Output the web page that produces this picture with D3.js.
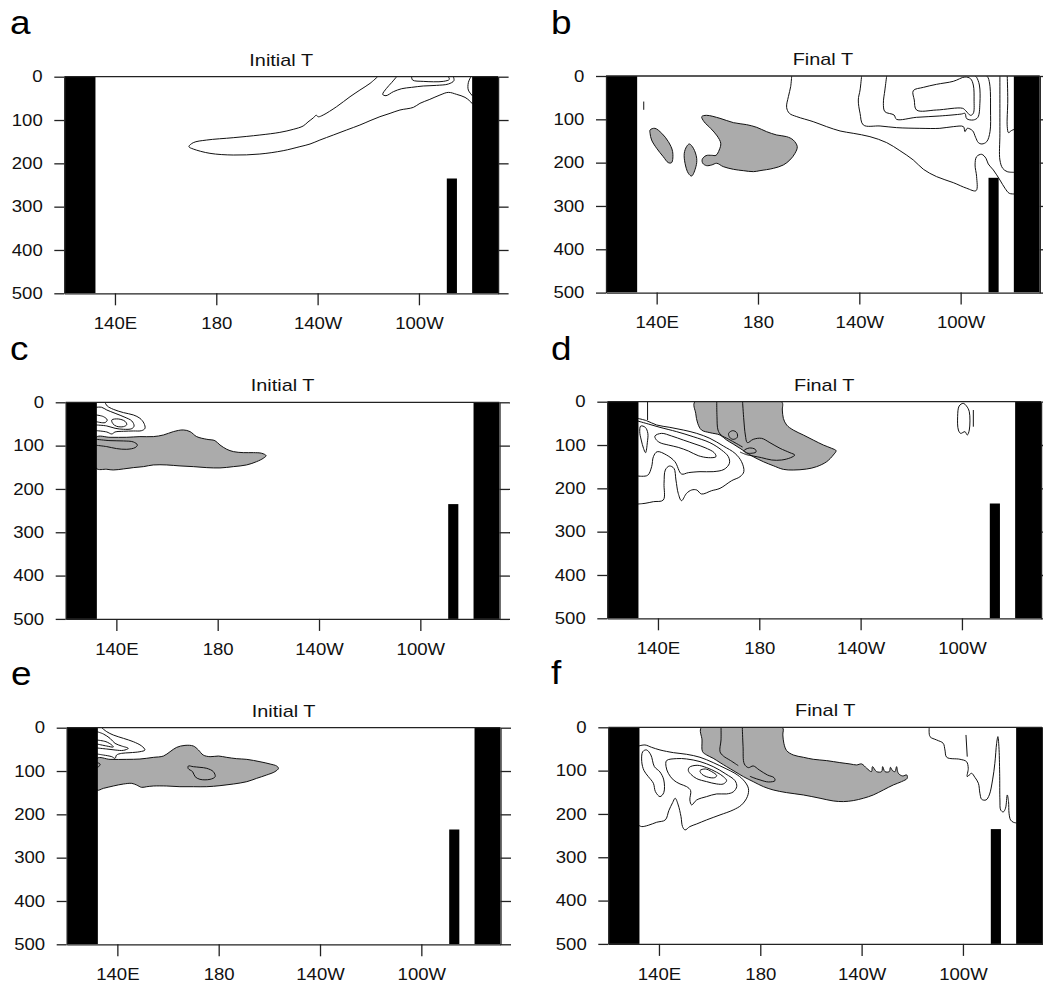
<!DOCTYPE html>
<html><head><meta charset="utf-8">
<script src="https://cdn.jsdelivr.net/npm/d3@7"></script>
<style>body{margin:0;background:#fff}svg{display:block}</style>
</head><body>
<script>
// ---------- data ----------
const depthTicks = [0, 100, 200, 300, 400, 500];
const lonTicks = [140, 180, 220, 260];
const lonTickLabels = ["140E", "180", "140W", "100W"];
const lonDomain = [120, 291.25];
const depthDomain = [0, 500];
const landWest = [120, 132.3];
const landEast = [281, 291.25];
const ridgeLon = [271, 275];
const ridgeTop = 235;
const panelLetters = ["a", "b", "c", "d", "e", "f"];
const panelTitles = ["Initial T", "Final T", "Initial T", "Final T", "Initial T", "Final T"];

// contours: [lon (deg E), depth (m)]
const A_shaded = [];
const A_lines = [
  [[243.7,0],[240.7,15.4],[236.7,30.8],[232.8,46.2],[227.5,69.2],[222.2,88.5],[220.3,92.5],[219.4,89.0],[218.4,94.6],[216.2,104.5],[214.3,113.8],[210.4,121.5],[205.1,128.5],[197.2,134.6],[186.7,140.8],[176.2,146.2],[170.9,152.3],[169.2,161.5],[170.9,166.9],[177.5,176.9],[186.7,180.8],[197.2,178.5],[206.4,170.8],[213,161.5],[217,155.4],[220.9,146.2],[226.2,134.6],[231.4,123.1],[236.7,111.5],[240.7,101.5],[244.6,92.3],[248.6,84.6],[252.5,76.9],[257.8,70.8],[260.4,61.5],[264.3,52.3],[268.3,42.3],[271.6,36.2],[274.9,40.8],[278.2,47.7],[280.1,56.2],[281.2,63.1]],
  [[251.2,0],[249.2,13.8],[247.2,26.9],[245.7,40.8],[247,43.8],[249.9,34.6],[253.2,27.7],[257.1,24.6],[261.7,21.5],[267,20],[271.6,16.9],[273.8,9.2],[273.6,0]],
  [[257.1,0],[257.5,7.7],[261.7,10.8],[269.6,10.8],[272,6.2],[271.6,0]],
  [[280.5,0],[279.5,13.8],[279.5,30.8],[281.2,44.6]]
];
const A_loops = [];

const B_shaded = [
  [[137.4,124.6],[139.3,120.8],[142,132.3],[144.6,151.5],[146.3,174.6],[145.9,200],[144.6,200],[142.6,186.2],[140,166.9],[138,147.7],[137.4,132.3]],
  [[152.9,156.9],[154.5,166.9],[155.8,190],[155.5,209.2],[153.8,230.8],[152.5,224.6],[151.2,201.5],[150.9,178.5],[151.8,163.1]],
  [[157.8,93.8],[159.7,90.8],[165,97.7],[170.3,107.7],[175.5,112.3],[179.5,118.5],[183.4,128.5],[187.4,136.2],[191.3,140],[193.9,147.7],[195.5,163.1],[194.6,178.5],[192.6,193.8],[190,205.4],[186.1,213.1],[180.8,218.5],[178.2,220.8],[174.2,218.5],[170.3,215.4],[166.3,209.2],[163.7,201.5],[161.7,205.4],[159.7,206.9],[158.2,201.5],[158,192.3],[159.5,183.8],[161.7,183.1],[163.4,183.1],[164.7,170.8],[165.3,155.4],[163.9,138.5],[161.3,120.8],[158.7,105.4]]
];
const B_lines = [
  [[193.3,0],[192.9,24.6],[192,47.7],[191.3,72.3],[192.4,86.2],[195.3,93.8],[201.8,105.4],[207.1,116.9],[212.4,126.9],[217.6,132.3],[224.2,140],[230.8,153.8],[236,172.3],[241.3,193.8],[245.3,215.4],[250.5,232.3],[257.1,246.2],[262.4,259.2],[266.1,264.6],[266.3,232.3],[265.7,205.4],[266.3,186.2],[268.3,180.8],[270,190],[270.9,203.1],[272.9,216.9],[275.5,240],[277.5,259.2],[279.2,270.8],[281.2,272.3]],
  [[220.9,0],[220.3,32.3],[219.6,55.4],[220.3,86.2],[221.6,113.1],[228.2,115.4],[234.7,119.2],[243.9,120.8],[251.8,120.8],[257.1,116.9],[261.1,116.9],[261.7,128.5],[262.6,120.8],[264.7,126.2],[265.9,141.5],[267,153.8],[268.4,156.9],[270.3,151.5],[271.6,128.5],[271.8,78.5],[271.6,24.6],[270.9,4.6],[270.3,0]],
  [[230.8,0],[230.1,32.3],[229.5,63.1],[230.1,82.3],[233.7,90],[234.7,100],[242.6,95.4],[251.8,92.3],[260.4,87.7],[261.7,86.2],[262.4,98.5],[265,101.5],[266.8,95.4],[267.6,63.1],[267.4,20.8],[266.3,3.1],[265.7,0]],
  [[275.5,0],[275.5,132.3],[275.5,193.8],[276.6,213.1],[278.4,220.8],[281.2,222.3]],
  [[278.4,0],[278.6,55.4],[278.4,116.9],[278.9,130.8],[280,126.2],[281.2,123.1]],
  [[134.9,59],[134.9,78]]
];
const B_loops = [
  [[241.3,33.8],[241.7,55.4],[242.6,78.5],[250.5,78.5],[260.8,74.6],[262.1,80.8],[263.9,90.8],[265,86.2],[265.3,55.4],[265,20.8],[263.9,6.2],[261.7,2.3],[257.1,12.3],[250.5,19.2],[245.3,26.2]]
];

const C_shaded = [
  [[132,80.8],[137.5,80.8],[144.1,80.8],[149.3,79.2],[154.6,79.2],[158.6,75.4],[162.5,67.7],[166.4,63.8],[169.1,67.7],[171.7,79.2],[175.7,85.4],[178.9,88.5],[180.9,98.5],[183.6,108.5],[186.2,113.8],[190.1,116.2],[194.1,116.2],[197.4,117.7],[199.1,123.1],[198,129.2],[195.4,136.9],[191.4,144.6],[186.2,148.5],[180.9,151.5],[175.7,150.8],[170.4,148.5],[165.1,146.9],[159.9,144.6],[154.6,144.6],[150.7,148.5],[146.7,150.8],[142.8,153.8],[138.8,156.2],[136.2,154.6],[132,152.3]]
];
const C_lines = [
  [[135.5,0],[136.4,8.5],[138.8,16.2],[142.8,23.8],[146.7,29.2],[149.3,36.9],[150.9,48.5],[151.3,60],[150,65.4],[146.7,66.2],[142.8,66.9],[139.5,68.5],[138.2,73.1],[136.2,68.5],[132,65.4]],
  [[132,11.5],[134.2,11.5],[136.2,17.7],[139.5,25.4],[143.4,34.6],[146.1,43.1],[147,54.6],[146.1,60.8],[142.8,62.3],[139.5,60],[136.2,54.6],[132,52.3]],
  [[132,29.2],[134.9,33.1],[136.4,40.8],[135.5,46.9],[132,44.6]],
  [[132,85.4],[137.5,88.5],[142.8,89.2],[146.7,91.5],[148.3,98.5],[147.4,104.6],[144.1,108.5],[140.1,106.9],[136.2,102.3],[132,99.2]]
];
const C_loops = [
  [[138.2,40.8],[140.8,38.5],[143.4,43.8],[144.1,51.5],[142.8,56.2],[140.1,55.4],[138.6,49.2]]
];

const D_shaded = [
  [[154.6,0],[154.9,26.9],[155.7,50],[157.2,65.4],[160.5,71.5],[164.5,76.9],[167.1,88.5],[169.7,97.7],[172.4,107.7],[175,117.7],[177.6,126.9],[181.6,138.5],[185.5,147.7],[189.5,156.2],[193.4,157.7],[198.7,155.4],[202.6,150],[206.6,138.5],[209.2,123.1],[210.3,113.1],[208.6,107.7],[205.3,100],[201.3,88.5],[197.4,76.9],[193.4,65.4],[190.8,53.8],[189.5,38.5],[189.1,19.2],[188.8,0]]
];
const D_lines = [
  [[132,38.5],[135.5,43.8],[139.5,53.8],[144.7,59.2],[150,65.4],[155.3,73.1],[160.5,84.6],[165.8,102.3],[170.4,119.2],[173,138.5],[173.9,161.5],[172.4,173.1],[169.1,182.3],[164.5,200],[161.2,205.4],[157.2,213.1],[155.3,203.8],[153.3,203.8],[151.3,211.5],[149.3,228.5],[148,211.5],[147.1,180.8],[146.3,153.8],[144.5,148.5],[142.9,157.7],[142.4,188.5],[142.1,226.9],[138.2,230.8],[134.9,234.6],[132,236.2]],
  [[132,44.6],[136.2,51.5],[140.8,59.2],[147.4,69.2],[153.9,80.8],[160.5,94.6],[165.1,111.5],[167.8,126.9],[168.2,142.3],[166.1,156.2],[161.8,161.5],[156.6,161.5],[152,163.8],[149.3,166.9],[146.7,138.5],[143.4,123.1],[139.7,115.4],[138.2,126.9],[137.5,150],[135.9,170],[132,171.5]],
  [[135.9,0],[135.9,42.3]],
  [[163.2,0],[163.3,34.6],[163.7,65.4],[164.9,76.9],[167.8,86.2],[171.1,96.9],[173.4,104.6]],
  [[173.4,0],[173.9,42.3],[174.5,76.9],[175.3,94.6],[177.6,86.9],[180.9,84.6],[184.2,94.6],[188.2,107.7],[192.1,117.7],[194,123.1],[192.4,129.2],[188.8,134.6],[184.9,134.6],[180.9,129.2],[177.6,125.4],[175,122.3],[172.4,116.2]],
  [[264.5,19.2],[264.5,57.7]]
];
const D_loops = [
  [[138.8,79.2],[141.4,73.1],[145.4,79.2],[150,88.5],[154.6,97.7],[158.6,106.2],[162.2,117.7],[162.9,126.9],[159.9,129.2],[155.9,124.6],[152,113.8],[148,105.4],[144.1,100],[140.8,94.6],[139.2,86.9]],
  [[133.2,56.2],[135,59.2],[136,73.1],[135.8,94.6],[135.1,117.7],[134.3,107.7],[133.4,88.5],[132.8,69.2]],
  [[167.9,73.1],[169.5,66.9],[171.1,71.5],[171.3,82.3],[169.7,86.9],[168.3,82.3]],
  [[173.9,113.1],[176.1,106.9],[178.4,110],[178.7,116.2],[176.6,119.2],[174.5,117.7]],
  [[258.9,10],[260.5,3.8],[261.8,10],[262.9,23.1],[262.9,65.4],[262.1,76.9],[261.2,69.2],[259.5,73.1],[258.6,65.4],[258.3,34.6]]
];

const E_shaded = [
  [[132,70.8],[137.1,73.1],[143.7,73.1],[148.9,72.3],[154.2,68.5],[158.2,65.4],[160.8,55.4],[163.4,45.4],[166.7,40.8],[170,42.3],[172,51.5],[173.9,63.1],[176.6,66.9],[179.9,65.4],[183.2,68.5],[187.1,71.5],[191.1,73.1],[196.3,78.5],[200.3,83.8],[202.9,88.5],[203.6,93.8],[202.2,101.5],[198.9,109.2],[195,116.9],[191.1,124.6],[185.8,130],[180.5,133.8],[175.3,136.2],[170,136.2],[164.7,136.2],[159.5,134.6],[154.2,134.6],[151.6,136.2],[149.6,137.7],[147.6,132.3],[145.7,128.5],[142.4,130],[138.4,134.6],[134.5,140],[132,143.8]]
];
const E_lines = [
  [[133.8,0],[135.8,9.2],[138.4,16.9],[142.4,24.6],[146.3,32.3],[149.6,42.3],[150.9,51.5],[148.9,55.4],[145,57.7],[141.7,59.2],[139.7,63.1],[139.1,70.8],[137.8,66.9],[134.5,63.1],[132,60.8]],
  [[132,9.2],[134.5,14.6],[137.1,24.6],[139.1,36.2],[141.7,42.3],[144.3,47.7],[142.4,52.3],[139.1,51.5],[135.8,49.2],[132,46.9]],
  [[132,28.5],[135.5,32.3],[137.8,40],[138.4,44.6],[135.8,42.3],[132,37.7]],
  [[132,80.8],[133.2,83.8],[132.6,90],[132,91.5]]
];
const E_loops = [
  [[168,88.5],[170,90],[172.6,91.5],[175.3,93.8],[177.9,101.5],[178.6,113.1],[176.6,119.2],[172.6,119.2],[170.7,113.1],[169.7,101.5],[168,94.6]]
];

const F_shaded = [
  [[156.8,0],[157,29.2],[157.2,56.2],[158.8,63.8],[161.4,71.5],[164.1,81.5],[166.7,90.8],[170,102.3],[173.3,113.8],[177.2,125.4],[181.2,136.9],[185.1,144.6],[190.4,150.8],[197,156.2],[203.6,163.8],[208.8,170],[212.8,171.5],[216.7,169.2],[220.7,163.8],[224.6,156.2],[228.6,144.6],[232.5,133.1],[235.8,125.4],[238,117.7],[237.8,110],[236.2,112.3],[234.5,106.2],[233.8,90.8],[233.2,102.3],[232.2,100],[231.4,92.3],[230.9,102.3],[229.2,102.3],[228.3,90.8],[227.9,102.3],[225.9,102.3],[224.3,90.8],[223.9,102.3],[222,94.6],[220,84.6],[218,86.9],[215.4,84.6],[211.4,81.5],[206.2,76.9],[200.9,73.8],[197,69.2],[193,63.8],[190.4,53.8],[189.3,36.9],[188.9,17.7],[188.7,0]]
];
const F_lines = [
  [[132,43.1],[134.5,40.8],[137.1,46.2],[140.4,52.3],[145.7,58.5],[150.9,62.3],[156.2,69.2],[161.4,81.5],[166.1,94.6],[170,106.2],[173.3,121.5],[175.3,140.8],[174.9,160],[172.6,179.2],[169.3,190.8],[164.1,202.3],[158.8,213.8],[154.9,223.1],[152.2,229.2],[150.3,236.9],[149.3,229.2],[148.7,206.2],[147.6,179.2],[146.4,163.8],[145.4,173.8],[143.9,192.3],[142.5,213.8],[139.1,219.2],[135.8,226.2],[133.2,229.2],[132,226.2]],
  [[164.5,0],[164.5,29.2],[164.1,56.2],[165.4,66.2],[168.3,76.9],[171.3,88.5]],
  [[172.9,0],[173.2,44.6],[173.7,84.6],[175.3,93.1],[177.2,89.2],[179.6,98.5],[182.8,110],[185.4,116.2],[185.8,123.1],[183.2,126.2],[179.9,121.5],[177.2,116.2],[175.9,113]],
  [[246.7,0],[247,21.5],[249.6,29.2],[252.2,36.9],[252.9,52.3],[253.6,69.2],[258.8,73.8],[261.4,79.2],[262.1,94.6],[261.7,113.8],[263.4,106.2],[264.7,115.4],[266.1,129.2],[266.7,152.3],[267.4,166.2],[269.1,167.7],[270.4,156.2],[271.7,121.5],[272.6,83.1],[273.3,36.9],[273.8,21.5],[274.2,44.6],[274.5,106.2],[274.6,167.7],[274.9,190.8],[275.9,195.4],[276.8,186.9],[277.5,156.2],[278,171.5],[278.2,198.5],[278.8,213.8],[279.9,219.2],[281.2,220.8]],
  [[261.2,17.7],[261.7,67.7]]
];
const F_loops = [
  [[133.6,56.2],[135.1,52.3],[136.8,63.8],[138.2,90.8],[140.4,103.1],[141.9,121.5],[141.9,150.8],[140.4,160],[138.6,148.5],[137.8,129.2],[135.8,113.8],[134.1,100],[133.2,79.2]],
  [[143,76.9],[147,72.3],[150.9,73.1],[156.2,79.2],[161.4,90.8],[166.4,107.7],[170,123.1],[170.7,136.9],[169.3,149.2],[166.7,153.8],[162.8,153.8],[158.8,160],[154.9,167.7],[152.9,179.2],[152.2,167.7],[152.5,146.2],[150.9,136.9],[148.3,130.8],[145.7,121.5],[143.7,106.2],[142.8,90.8]],
  [[152,92.3],[155.1,87.7],[158.8,93.1],[162.8,103.8],[165.4,113.8],[166.7,123.1],[165.4,130.8],[162.8,130.8],[158.8,125.4],[154.9,118.5],[152.6,108.5],[151.6,100]],
  [[156.2,100],[158.3,96.2],[160.8,102.3],[162.8,111.5],[162,116.2],[159.5,115.4],[157,108.5]]
];

// ---------- layout ----------
const W = 1043, H = 985;
const plotW = 433.8, plotH = 216.6;
const FONT = "'Liberation Sans', Arial, Helvetica, sans-serif";
const SHADE = "#ababab";
const INK = "#111";
const panels = [
  {x0: 64.3,  y0: 76.7,  lx: 10,  ly: 34,    shaded: A_shaded, lines: A_lines, loops: A_loops},
  {x0: 606,   y0: 76,    lx: 551, ly: 33.5,  shaded: B_shaded, lines: B_lines, loops: B_loops},
  {x0: 65.7,  y0: 402.3, lx: 10,  ly: 359.5, shaded: C_shaded, lines: C_lines, loops: C_loops},
  {x0: 607.3, y0: 401.7, lx: 551, ly: 359.5, shaded: D_shaded, lines: D_lines, loops: D_loops},
  {x0: 66.7,  y0: 727.7, lx: 11,  ly: 685,   shaded: E_shaded, lines: E_lines, loops: E_loops},
  {x0: 608.3, y0: 727.3, lx: 551, ly: 683.5, shaded: F_shaded, lines: F_lines, loops: F_loops}
];

const svg = d3.select("body").append("svg").attr("width", W).attr("height", H)
  .attr("font-family", FONT);
svg.append("rect").attr("width", W).attr("height", H).attr("fill", "#fff");
const defs = svg.append("defs");

panels.forEach((p, i) => {
  const x = d3.scaleLinear().domain(lonDomain).range([p.x0, p.x0 + plotW]);
  const y = d3.scaleLinear().domain(depthDomain).range([p.y0, p.y0 + plotH]);
  const clipId = "clip" + i;
  defs.append("clipPath").attr("id", clipId).append("rect")
    .attr("x", x(lonDomain[0])).attr("y", y(0))
    .attr("width", x(lonDomain[1]) - x(lonDomain[0])).attr("height", y(500) - y(0));

  const g = svg.append("g");
  const body = g.append("g").attr("clip-path", `url(#${clipId})`);
  const openLine = d3.line().x(d => x(d[0])).y(d => y(d[1])).curve(d3.curveCatmullRom.alpha(0.5));
  const closedLine = d3.line().x(d => x(d[0])).y(d => y(d[1])).curve(d3.curveCatmullRomClosed.alpha(0.5));

  body.selectAll("path.shade").data(p.shaded).join("path").attr("class", "shade")
    .attr("d", d => closedLine(d)).attr("fill", SHADE).attr("stroke", INK).attr("stroke-width", 1);
  body.selectAll("path.loop").data(p.loops).join("path").attr("class", "loop")
    .attr("d", d => closedLine(d)).attr("fill", "none").attr("stroke", INK).attr("stroke-width", 1);
  body.selectAll("path.line").data(p.lines).join("path").attr("class", "line")
    .attr("d", d => openLine(d)).attr("fill", "none").attr("stroke", INK).attr("stroke-width", 1);

  // land masks
  const lands = [landWest, landEast];
  body.selectAll("rect.land").data(lands).join("rect").attr("class", "land")
    .attr("x", d => x(d[0])).attr("y", y(0))
    .attr("width", d => x(d[1]) - x(d[0])).attr("height", y(500) - y(0)).attr("fill", "#000");
  body.append("rect").attr("x", x(ridgeLon[0])).attr("y", y(ridgeTop))
    .attr("width", x(ridgeLon[1]) - x(ridgeLon[0])).attr("height", y(500) - y(ridgeTop)).attr("fill", "#000");

  // frame top line
  g.append("line").attr("x1", x(lonDomain[0])).attr("x2", x(lonDomain[1]))
    .attr("y1", y(0)).attr("y2", y(0)).attr("stroke", "#222").attr("stroke-width", 1.3);

  // axes
  const styleAxis = sel => {
    sel.select(".domain").attr("stroke", "#222").attr("stroke-width", 1.3);
    sel.selectAll(".tick line").attr("stroke", "#222").attr("stroke-width", 1.3);
    sel.selectAll("text").attr("fill", "#111").attr("font-size", 16).attr("font-family", FONT);
  };
  const left = g.append("g").attr("transform", `translate(${x(lonDomain[0])},0)`)
    .call(d3.axisLeft(y).tickValues(depthTicks).tickSize(10).tickSizeOuter(0).tickPadding(11.6));
  styleAxis(left);
  left.selectAll("text").each(function () {
    const xx = +this.getAttribute("x");
    d3.select(this).attr("x", 0).attr("transform", `translate(${xx},0) scale(1.16,1)`);
  });
  const right = g.append("g").attr("transform", `translate(${x(lonDomain[1])},0)`)
    .call(d3.axisRight(y).tickValues(depthTicks).tickSize(10.5).tickSizeOuter(0).tickFormat(""));
  styleAxis(right);
  const bottom = g.append("g").attr("transform", `translate(0,${y(500)})`)
    .call(d3.axisBottom(x).tickValues(lonTicks).tickSize(12).tickSizeOuter(0).tickPadding(12.3)
      .tickFormat((d, k) => lonTickLabels[k]));
  styleAxis(bottom);
  bottom.selectAll("text").attr("transform", "scale(1.16,1)");

  // title
  g.append("text").attr("text-anchor", "middle").attr("font-size", 17).attr("fill", "#111")
    .attr("transform", `translate(${p.x0 + plotW / 2},${p.y0 - 11}) scale(1.17,1)`)
    .text(panelTitles[i]);
  // letter
  g.append("text").attr("font-size", 33).attr("fill", "#000")
    .attr("transform", `translate(${p.lx},${p.ly}) scale(1.12,1)`)
    .text(panelLetters[i]);
});
</script>
</body></html>
